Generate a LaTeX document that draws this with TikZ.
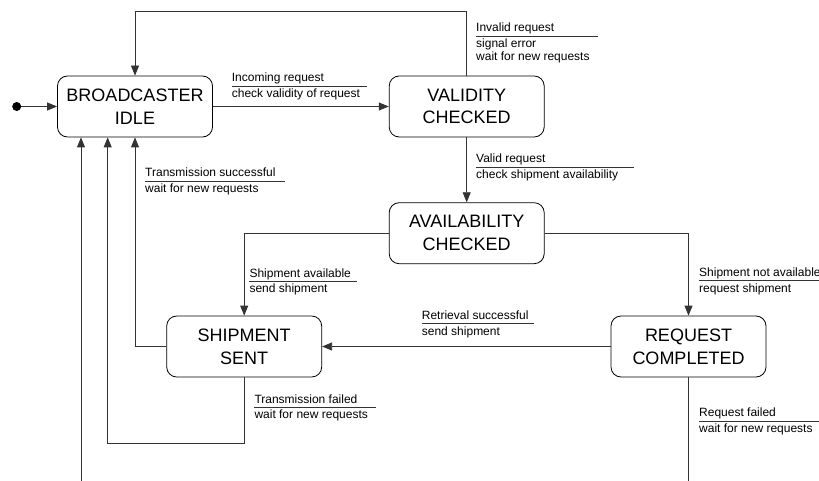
\documentclass[tikz,border=0pt]{standalone}
\usepackage{fontspec}
\setmainfont{Liberation Sans}
\usetikzlibrary{arrows.meta}

% transition label: event above a guard rule, action below it
\newcommand\trlabel[6]{%
  \coordinate (#1) at (#2,#3);
  \node[evt] (#1-ev) at (#1) {#5};
  \draw[guard] ([yshift=-4.3pt]#1) -- ++(#4,0);
  \node[evt] (#1-ac) at ([yshift=-15.5pt]#1) {#6};
}

\begin{document}
\begin{tikzpicture}[x=1pt,y=-1pt,
  state/.style={draw=black, line width=0.8pt, rounded corners=10pt,
    minimum width=155pt, minimum height=61pt, align=center, inner sep=0pt,
    font=\fontsize{18}{22.7}\selectfont},
  evt/.style={anchor=base west, inner sep=0pt, font=\fontsize{12}{13.4}\selectfont},
  guard/.style={draw=black!80, line width=0.7pt},
  conn/.style={draw=black!80, line width=0.8pt},
  arr/.style={conn, -{Triangle[length=10pt,width=8pt]}}]

\useasboundingbox (0,0) rectangle (819,481);
\clip (0,0) rectangle (819,481);

% states
\node[state] (bi) at (135,106.5) {BROADCASTER\\IDLE};
\node[state] (vc) at (466.7,106.5) {VALIDITY\\CHECKED};
\node[state] (ac) at (466.7,233.2) {AVAILABILITY\\CHECKED};
\node[state] (ss) at (244.2,346.5) {SHIPMENT\\SENT};
\node[state] (rc) at (688.5,346.5) {REQUEST\\COMPLETED};

% initial pseudo-state
\node[circle, fill=black, inner sep=0pt, minimum size=9pt] (init) at (16.7,106.5) {};

% routing points
\coordinate (top) at (0,11.7);
\coordinate (fail) at (107.7,443.3);
\coordinate (back) at (81,486);
\coordinate (down) at (0,486);

% transitions
\draw[arr] (init) -- (bi);
\draw[arr] (bi) -- (vc);
\draw[arr] (vc.north) -- (vc.north |- top) -- (bi.north |- top) -- (bi.north);
\draw[arr] (vc) -- (ac);
\draw[arr] (ac.west) -| (ss.north);
\draw[arr] (ac.east) -| (rc.north);
\draw[arr] (rc) -- (ss);
\draw[arr] (ss.west) -| (bi.south);
\draw[arr] (ss.south) |- (fail) -- (fail |- bi.south);
\draw[conn] (rc.south) -- (rc.south |- down);
\draw[arr] (back) -- (back |- bi.south);

% transition labels
\trlabel{inc}{231.7}{81.7}{135}{Incoming request}{check validity of request}
\trlabel{inv}{476}{31.7}{121.7}{Invalid request}{signal error}
\node[evt] (inv-ac2) at ([yshift=-28.9pt]inv) {wait for new requests};
\trlabel{val}{476}{162.7}{158}{Valid request}{check shipment availability}
\trlabel{tsu}{145}{176.7}{140}{Transmission successful}{wait for new requests}
\trlabel{sav}{249.3}{277}{108}{Shipment available}{send shipment}
\trlabel{sna}{699}{276.5}{130}{Shipment not available}{request shipment}
\trlabel{rsu}{421.7}{319.5}{112.6}{Retrieval successful}{send shipment}
\trlabel{tfa}{254.3}{403.3}{121.4}{Transmission failed}{wait for new requests}
\trlabel{rfa}{699}{416.7}{130}{Request failed}{wait for new requests}

\end{tikzpicture}
\end{document}
